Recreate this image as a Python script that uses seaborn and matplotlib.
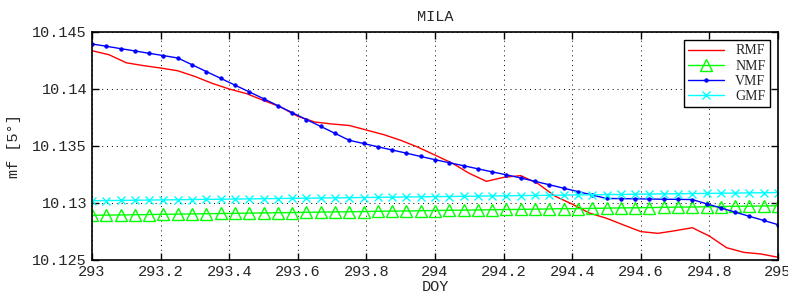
import numpy as np
import pandas as pd
import matplotlib
matplotlib.use('Agg')
import matplotlib.pyplot as plt
import seaborn as sns
from matplotlib.ticker import FuncFormatter

# hourly epochs (DOY 293 -> 295)
doy_hourly = 293 + np.arange(49) / 24.0
# RMF read every 0.05 day
doy_rmf = 293 + np.arange(41) * 0.05

rmf = [10.14336, 10.14300, 10.14230, 10.14205, 10.14184, 10.14160, 10.14110, 10.14050,
       10.14000, 10.13960, 10.13900, 10.13842, 10.13760, 10.13710, 10.13693, 10.13680,
       10.13640, 10.13600, 10.13550, 10.13490, 10.13420, 10.13350, 10.13260, 10.13190,
       10.13225, 10.13240, 10.13170, 10.13060, 10.12990, 10.12912, 10.12866, 10.12807,
       10.12749, 10.12734, 10.12757, 10.12783, 10.12710, 10.12608, 10.12567, 10.12553,
       10.12524]

nmf = [10.12892, 10.12894, 10.12895, 10.12897, 10.12899, 10.12901, 10.12902, 10.12904,
       10.12906, 10.12908, 10.12909, 10.12911, 10.12913, 10.12915, 10.12916, 10.12918,
       10.12920, 10.12922, 10.12923, 10.12925, 10.12927, 10.12929, 10.12930, 10.12932,
       10.12934, 10.12936, 10.12937, 10.12939, 10.12941, 10.12943, 10.12944, 10.12946,
       10.12948, 10.12950, 10.12951, 10.12953, 10.12955, 10.12957, 10.12958, 10.12960,
       10.12962, 10.12964, 10.12965, 10.12967, 10.12969, 10.12971, 10.12972, 10.12974,
       10.12976]

vmf = [10.14395, 10.14375, 10.14354, 10.14334, 10.14313, 10.14293, 10.14272,
       10.14213, 10.14153, 10.14094, 10.14034, 10.13975, 10.13915,
       10.13854, 10.13793, 10.13732, 10.13672, 10.13611, 10.13550,
       10.13522, 10.13493, 10.13465, 10.13437, 10.13408, 10.13380,
       10.13353, 10.13327, 10.13300, 10.13273, 10.13247, 10.13220,
       10.13190, 10.13160, 10.13130, 10.13100, 10.13070, 10.13040,
       10.13038, 10.13037, 10.13035, 10.13033, 10.13032, 10.13030,
       10.12993, 10.12957, 10.12920, 10.12883, 10.12847, 10.12810]

gmf = [10.13020, 10.13021, 10.13023, 10.13024, 10.13026, 10.13027, 10.13029, 10.13030,
       10.13032, 10.13033, 10.13035, 10.13036, 10.13038, 10.13039, 10.13041, 10.13042,
       10.13044, 10.13045, 10.13047, 10.13048, 10.13050, 10.13051, 10.13053, 10.13054,
       10.13056, 10.13057, 10.13059, 10.13060, 10.13062, 10.13063, 10.13065, 10.13066,
       10.13068, 10.13069, 10.13071, 10.13072, 10.13074, 10.13075, 10.13077, 10.13078,
       10.13080, 10.13081, 10.13083, 10.13084, 10.13086, 10.13087, 10.13089, 10.13090,
       10.13092]

xticks = [293, 293.2, 293.4, 293.6, 293.8, 294, 294.2, 294.4, 294.6, 294.8, 295]
yticks = [10.125, 10.13, 10.135, 10.14, 10.145]

sns.set_style('ticks')
mono = 'Liberation Mono'

fig = plt.figure(figsize=(7.88, 2.95), dpi=100)
ax = fig.add_axes([92/788, 1 - 260/295, (778 - 92)/788, (260 - 32)/295])

df_r = pd.DataFrame({'doy': doy_rmf, 'mf': rmf})
df_h = pd.DataFrame({'doy': doy_hourly, 'nmf': nmf, 'vmf': vmf, 'gmf': gmf})

sns.lineplot(data=df_r, x='doy', y='mf', ax=ax, color='#ff0000', linewidth=1.0, label='RMF')
sns.lineplot(data=df_h, x='doy', y='nmf', ax=ax, color='#00ff00', linewidth=1.0,
             marker='^', markersize=8, markerfacecolor='none', markeredgecolor='#00ff00',
             markeredgewidth=1.0, label='NMF')
sns.lineplot(data=df_h, x='doy', y='vmf', ax=ax, color='#0000ff', linewidth=1.0,
             marker='o', markersize=2.4, markeredgecolor='#0000ff', label='VMF')
sns.lineplot(data=df_h, x='doy', y='gmf', ax=ax, color='#00ffff', linewidth=1.0,
             marker='x', markersize=6, markeredgewidth=1.0, markeredgecolor='#00ffff',
             label='GMF')

ax.set_xlim(293, 295)
ax.set_ylim(10.125, 10.145)
ax.set_xticks(xticks)
ax.set_yticks(yticks)
ax.xaxis.set_major_formatter(FuncFormatter(lambda v, p: '%g' % round(v, 4)))
ax.yaxis.set_major_formatter(FuncFormatter(lambda v, p: '%g' % round(v, 4)))
ax.tick_params(direction='in', length=5, width=1, top=True, right=True,
               labelsize=11, colors='black')
for lab in ax.get_xticklabels() + ax.get_yticklabels():
    lab.set_fontfamily(mono)
    lab.set_color('#262626')
ax.set_axisbelow(True)
ax.grid(True, color='black', linestyle=(0, (1, 4)), linewidth=0.7)
for s in ax.spines.values():
    s.set_visible(True)
    s.set_linewidth(1.2)
    s.set_color('black')

ax.set_title('MILA', fontfamily=mono, fontsize=11, color='#262626', pad=8)
ax.set_xlabel('DOY', fontfamily=mono, fontsize=11, color='#262626', labelpad=1)
ax.set_ylabel('mf [5°]', fontfamily=mono, fontsize=11, color='#262626', labelpad=8)

leg = ax.legend(loc='upper right', prop={'family': 'Liberation Serif', 'size': 10},
                fancybox=False, framealpha=1, edgecolor='black', handlelength=2.6,
                borderaxespad=0.6, labelspacing=0.15, borderpad=0.3)
leg.get_frame().set_linewidth(1.0)

fig.savefig('out.png', dpi=100)
